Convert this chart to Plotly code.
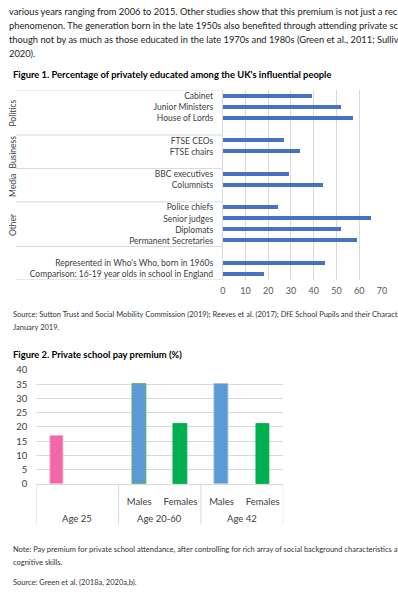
import plotly.graph_objects as go

W, H = 398, 600
FONT = "Lato, 'Open Sans', sans-serif"

# ---------------- data ----------------
body_lines = [
    "various years ranging from 2006 to 2015. Other studies show that this premium is not just a rec",
    "phenomenon. The generation born in the late 1950s also benefited through attending private sc",
    "though not by as much as those educated in the late 1970s and 1980s (Green et al., 2011; Sulliv",
    "2020).",
]
fig1_title = "Figure 1. Percentage of privately educated among the UK's influential people"
fig1_categories = [
    "Cabinet", "Junior Ministers", "House of Lords", " ",
    "FTSE CEOs", "FTSE chairs", "  ",
    "BBC executives", "Columnists", "   ",
    "Police chiefs", "Senior judges", "Diplomats", "Permanent Secretaries", "    ",
    "Represented in Who's Who, born in 1960s",
    "Comparison: 16-19 year olds in school in England",
]
fig1_values = [39, 52, 57, None, 27, 34, None, 29, 44, None, 24, 65, 52, 59, None, 45, 18]
fig1_groups = ["Politics", "Business", "Media", "Other", ""]
fig1_group_sizes = [4, 3, 3, 4, 3]
fig1_ticks = [0, 10, 20, 30, 40, 50, 60, 70]
fig1_source = [
    "Source: Sutton Trust and Social Mobility Commission (2019); Reeves et al. (2017); DfE School Pupils and their Characteris",
    "January 2019.",
]

fig2_title = "Figure 2. Private school pay premium (%)"
fig2_groups = ["Age 25", "Age 25", "Age 20-60", "Age 20-60", "Age 42", "Age 42"]
fig2_sub = ["", "", "Males", "Females", "Males", "Females"]
fig2_values = [17, None, 35, 21, 35, 21]
fig2_colors = ["#F068A8", "#5B9BD5", "#5B9BD5", "#00B050", "#5B9BD5", "#00B050"]
fig2_ticks = [0, 5, 10, 15, 20, 25, 30, 35, 40]
fig2_notes = [
    "Note: Pay premium for private school attendance, after controlling for rich array of social background characteristics an",
    "cognitive skills.",
]
fig2_source = "Source: Green et al. (2018a, 2020a,b)."

# ---------------- helpers ----------------
def fx(px):
    return px / W

def fy(py):
    return 1 - py / H

GRID = "#D9D9D9"
LABEL = "#595959"

fig = go.Figure()

# ---------------- Figure 1 ----------------
fig.add_trace(go.Bar(
    x=fig1_values, y=fig1_categories, orientation="h",
    marker=dict(color="#4472C4", line=dict(width=0)),
    width=0.36, xaxis="x", yaxis="y", showlegend=False,
    hoverinfo="x+y",
))

# ---------------- Figure 2 ----------------
fig2_keys = [f"{g}|{s}|{i}" for i, (g, s) in enumerate(zip(fig2_groups, fig2_sub))]
fig.add_trace(go.Bar(
    x=fig2_keys, y=fig2_values,
    marker=dict(color=fig2_colors, line=dict(width=0.8, color=[
        "#F7A9CC", "#70AD47", "#70AD47", "#00B050", "#9DC3E6", "#00B050"])),
    width=0.33, xaxis="x2", yaxis="y2", showlegend=False,
))

fig.update_layout(
    width=W, height=H,
    margin=dict(l=0, r=0, t=0, b=0),
    paper_bgcolor="white", plot_bgcolor="white",
    font=dict(family=FONT, color=LABEL),
    bargap=0,
    xaxis=dict(
        domain=[fx(224.3), fx(386.7)], range=[0, 70],
        tickvals=fig1_ticks, showgrid=True, gridcolor=GRID, gridwidth=1,
        zeroline=False, showline=False, ticks="",
        tickfont=dict(size=9, color=LABEL), ticklabelstandoff=4,
        ticklabeloverflow="allow",
        anchor="y", fixedrange=True,
    ),
    yaxis=dict(
        domain=[fy(279), fy(86)], type="category",
        categoryorder="array", categoryarray=fig1_categories,
        range=[len(fig1_categories) - 0.5, -0.5],
        showgrid=False, zeroline=False, showline=True, linecolor=GRID, linewidth=1,
        ticks="", tickfont=dict(size=8.5, color="#404040"), ticklabelstandoff=7,
        anchor="x", fixedrange=True,
    ),
    xaxis2=dict(
        domain=[fx(34), fx(286)], type="category",
        categoryorder="array", categoryarray=fig2_keys,
        range=[-0.5, len(fig2_keys) - 0.5],
        tickvals=fig2_keys, ticktext=fig2_sub,
        showgrid=False, zeroline=False, showline=True, linecolor=GRID, linewidth=1,
        ticks="", tickfont=dict(size=9.5, color="#404040"), ticklabelstandoff=9,
        anchor="y2", fixedrange=True,
    ),
    yaxis2=dict(
        domain=[fy(487), fy(370.7)], range=[0, 40], tickvals=fig2_ticks,
        showgrid=True, gridcolor=GRID, gridwidth=1, zeroline=False,
        showline=False, ticks="", tickfont=dict(size=9.5, color="#404040"),
        ticklabelstandoff=8, anchor="x2", fixedrange=True,
    ),
)

annotations = []
shapes = []

def text(x, y, s, size, bold=False, color="#1a1a1a"):
    annotations.append(dict(
        xref="paper", yref="paper", x=fx(x), y=fy(y), xanchor="left", yanchor="middle",
        text=f"<b>{s}</b>" if bold else s, showarrow=False,
        font=dict(family=FONT, size=size, color=color),
    ))

for i, line in enumerate(body_lines):
    text(4, 6 + i * 14, line, 9.3)

text(8, 69.5, fig1_title, 9.4, bold=True, color="#000000")

# Figure 1 group separators and labels
bounds = [-0.5]
for n in fig1_group_sizes:
    bounds.append(bounds[-1] + n)
for b in bounds:
    shapes.append(dict(type="line", xref="paper", yref="y", x0=fx(13), x1=fx(224.3),
                       y0=b, y1=b, line=dict(color=GRID, width=1), layer="below"))
for g, lo, hi in zip(fig1_groups, bounds[:-1], bounds[1:]):
    if g:
        annotations.append(dict(
            xref="paper", yref="y", x=fx(10), y=(lo + hi) / 2, textangle=-90,
            text=g, showarrow=False, xanchor="center", yanchor="middle",
            font=dict(family=FONT, size=8.5, color="#404040"),
        ))

text(8, 314.5, fig1_source[0], 7.5, color="#333333")
text(8, 327.5, fig1_source[1], 7.5, color="#333333")

text(8, 354.5, fig2_title, 9.4, bold=True, color="#000000")

# Figure 2 group dividers and labels
g_start = 0
group_spans = []
for i in range(1, len(fig2_groups) + 1):
    if i == len(fig2_groups) or fig2_groups[i] != fig2_groups[g_start]:
        group_spans.append((fig2_groups[g_start], g_start - 0.5, i - 0.5))
        g_start = i
for name, lo, hi in group_spans:
    annotations.append(dict(
        xref="x2", yref="paper", x=(lo + hi) / 2, y=fy(522), text=name,
        showarrow=False, xanchor="center", yanchor="middle",
        font=dict(family=FONT, size=9.5, color="#404040"),
    ))
divs = [group_spans[0][1]] + [s[2] for s in group_spans]
for d in divs:
    shapes.append(dict(type="line", xref="x2", yref="paper", x0=d, x1=d,
                       y0=fy(487), y1=fy(528), line=dict(color=GRID, width=1)))

text(8, 554, fig2_notes[0], 7.5, color="#333333")
text(8, 567, fig2_notes[1], 7.5, color="#333333")
text(8, 587, fig2_source, 7.5, color="#333333")

fig.update_layout(annotations=annotations, shapes=shapes)
fig.write_html(
    "out.html",
    config={"displayModeBar": False},
    post_script="document.body.style.margin='0';document.body.style.overflow='hidden';",
)
